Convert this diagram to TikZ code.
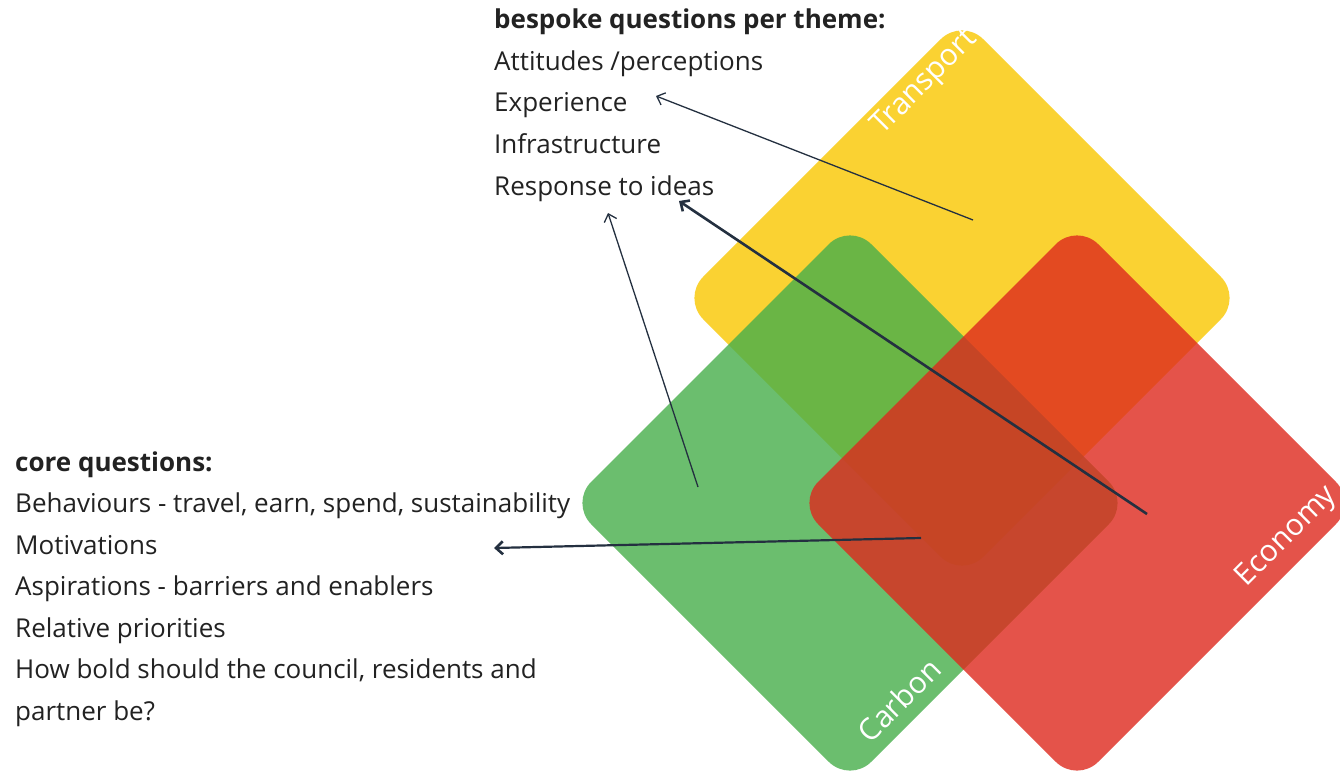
\documentclass[tikz,border=0pt]{standalone}
\usepackage{fontspec}
\setmainfont{Open Sans}
\usetikzlibrary{arrows.meta}
\definecolor{ylw}{HTML}{FAD232}
\definecolor{grn}{HTML}{46AE4A}
\definecolor{rd}{HTML}{DE291D}
\definecolor{txt}{HTML}{222222}
\definecolor{arr}{HTML}{243040}
\begin{document}
\begin{tikzpicture}[x=1pt,y=-1pt,
  tile/.style={rotate=45, minimum width=396pt, minimum height=396pt, inner sep=0pt, rounded corners=30pt, draw=none},
  lbl/.style={text=white, rotate=45, inner sep=0pt, font=\fontsize{30}{36}\selectfont},
  qtext/.style={anchor=base west, text=txt, inner sep=0pt, font=\fontsize{26}{31}\selectfont},
  qhead/.style={qtext, font=\fontsize{26}{31}\selectfont\bfseries},
  thin/.style={draw=arr, line width=1.3pt, -{Straight Barb[length=7pt,width=13pt,line width=1.3pt]}},
  thick/.style={draw=arr, line width=2.6pt, -{Straight Barb[length=7pt,width=13pt,line width=2.6pt]}},
]
\useasboundingbox (0,0) rectangle (1340,773);
\fill[white] (0,0) rectangle (1340,773);
% tiles
\node[tile, fill=ylw] (transport) at (962,298) {};
\node[tile, fill=grn, fill opacity=0.8] (carbon) at (850,503) {};
\node[tile, fill=rd, fill opacity=0.8] (economy) at (1077,503) {};
% tile labels
\node[lbl] (ltransport) at (925,83) {Transport};
\node[lbl] (lcarbon) at (899,700) {Carbon};
\node[lbl] (leconomy) at (1287,537) {Economy};
% bespoke questions
\node[qhead] (bhead) at (494,29) {bespoke questions per theme:};
\node[qtext] (b1) at (494,70.5) {Attitudes /perceptions};
\node[qtext] (b2) at (494,112) {Experience};
\node[qtext] (b3) at (494,153.5) {Infrastructure};
\node[qtext] (b4) at (494,195) {Response to ideas};
% core questions
\node[qhead] (chead) at (15,471) {core questions:};
\node[qtext] (c1) at (15,512.5) {Behaviours - travel, earn, spend, sustainability};
\node[qtext] (c2) at (15,554) {Motivations};
\node[qtext] (c3) at (15,595.5) {Aspirations - barriers and enablers};
\node[qtext] (c4) at (15,637) {Relative priorities};
\node[qtext] (c5) at (15,678.5) {How bold should the council, residents and};
\node[qtext] (c6) at (15,720) {partner be?};
% connector ends
\coordinate (sT) at (973,220);
\coordinate (eT) at (656,96);
\coordinate (sE) at (1147,514);
\coordinate (eE) at (679,201);
\coordinate (sC) at (698,487);
\coordinate (eC) at (608,213);
\coordinate (sX) at (921,538);
\coordinate (eX) at (494,548);
\draw[thin] (sT) -- (eT);
\draw[thick] (sE) -- (eE);
\draw[thin] (sC) -- (eC);
\draw[thick, line width=2.2pt] (sX) -- (eX);
\end{tikzpicture}
\end{document}
